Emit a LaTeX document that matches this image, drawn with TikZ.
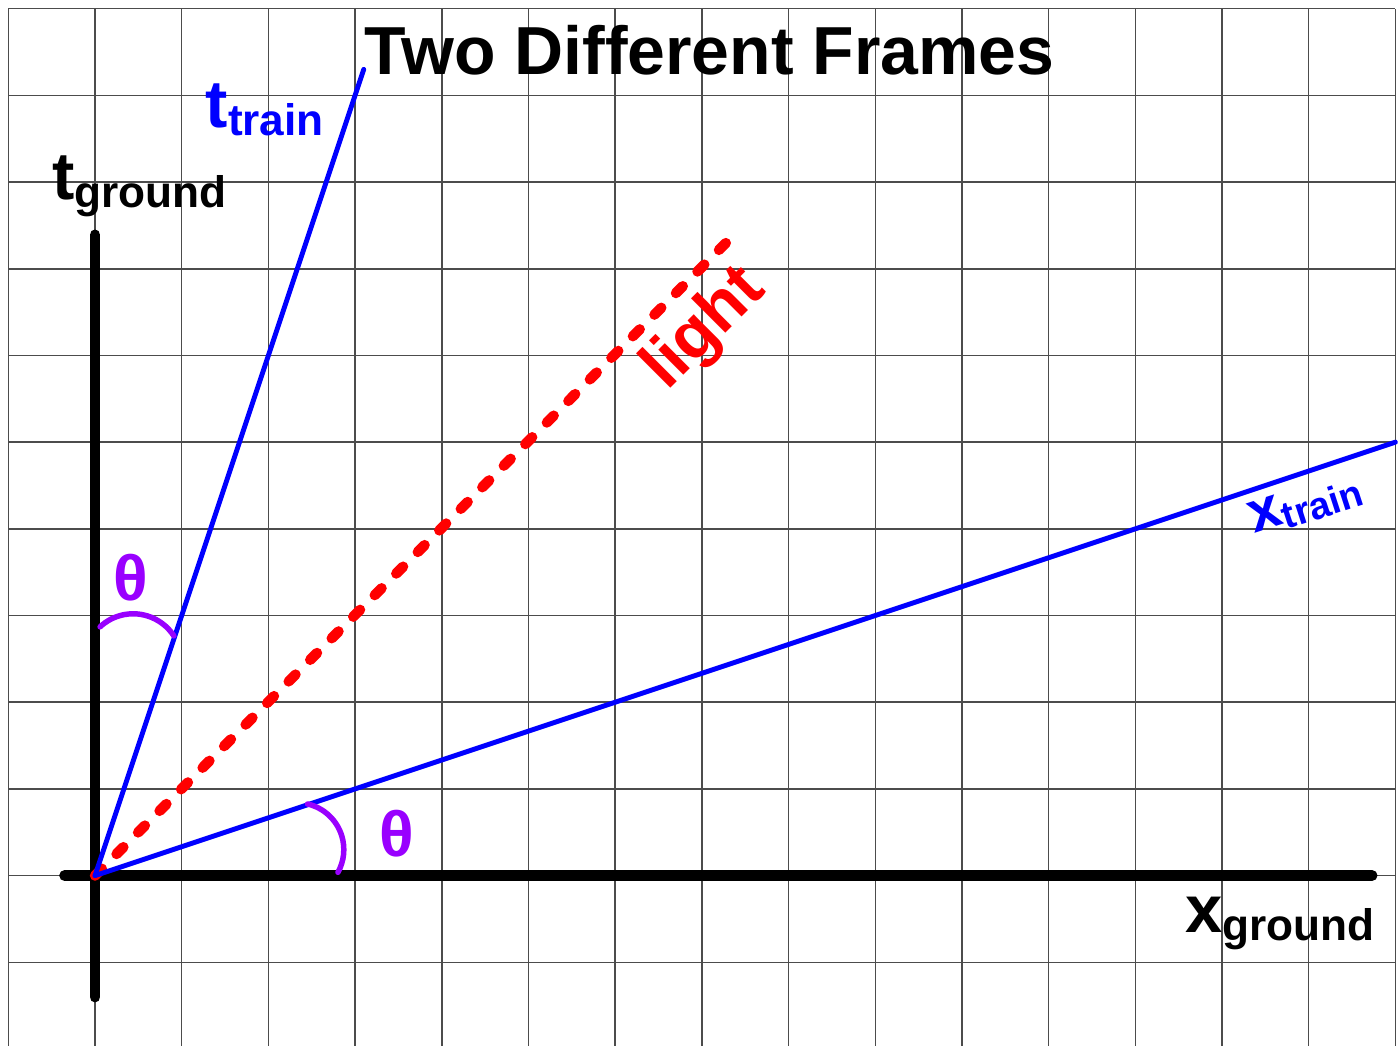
\documentclass[tikz,border=0pt]{standalone}
\usepackage{fontspec}
\setmainfont{Liberation Sans}
\usepackage{xcolor}
\definecolor{frblue}{RGB}{0,0,255}
\definecolor{frred}{RGB}{255,0,0}
\definecolor{frpurple}{RGB}{153,0,255}
\usepackage{tikz}
\usetikzlibrary{arrows.meta,positioning,calc}
\tikzset{
  gridline/.style={draw=black!70,line width=0.5pt},
  axis/.style={draw=black,line width=3.6pt,line cap=round},
  trainline/.style={draw=frblue,line width=1.6pt,line cap=round},
  lightline/.style={draw=frred,line width=3.4pt,line cap=round,dash pattern=on 3.2pt off 6.8pt},
  anglearc/.style={draw=frpurple,line width=1.8pt,line cap=round},
  lbl/.style={inner sep=0pt,font=\bfseries},
}
\newcommand{\sublab}[2]{{\fontsize{22}{24}\selectfont #1}\raisebox{-2.5pt}{\fontsize{14.5}{16}\selectfont #2}}

\begin{document}
\begin{tikzpicture}
\useasboundingbox (-1.096,-1.96) rectangle (15.03,10.10);
\fill[white] (-1.096,-1.96) rectangle (15.03,10.10);
\draw[gridline] (-1,-1.96) grid (15,10);
% axes
\coordinate (O) at (0,0);
\coordinate (tbot) at (0,-1.40);
\coordinate (ttop) at (0,7.39);
\coordinate (xleft) at (-0.35,0);
\coordinate (xright) at (14.73,0);
\draw[axis] (tbot) -- (ttop);
\draw[axis] (xleft) -- (xright);
% train frame and light
\coordinate (ttrain) at (3.1,9.3);
\coordinate (xtrain) at (15,5);
\coordinate (lend) at (7.35,7.37);
\draw[lightline] (O) -- (lend);
\draw[trainline] (O) -- (ttrain);
\draw[trainline] (O) -- (xtrain);
% angles
\coordinate (arctop) at (0.44,2.46);
\coordinate (arcbot) at (2.33,0.30);
\draw[anglearc] (arctop) ++(133:0.56) arc[start angle=133,end angle=33,radius=0.56];
\draw[anglearc] (arcbot) ++(77:0.54) arc[start angle=77,end angle=-29,radius=0.54];
\node[lbl,text=frpurple,font=\bfseries\fontsize{21}{24}\selectfont] (thtop) at (0.415,3.44) {θ};
\node[lbl,text=frpurple,font=\bfseries\fontsize{21}{24}\selectfont] (thbot) at (3.48,0.48) {θ};
% labels
\node[lbl,anchor=base,font=\bfseries\fontsize{22.3}{24}\selectfont] (title) at (7.09,9.24) {Two Different Frames};
\node[lbl,anchor=base west] (tground) at (-0.50,7.80) {\sublab{t}{ground}};
\node[lbl,anchor=base west,text=frblue] (ttrainlab) at (1.27,8.63) {\sublab{t}{train}};
\node[lbl,anchor=base west] (xground) at (12.57,-0.66) {\sublab{x}{ground}};
\node[lbl,text=frblue,rotate=18] (xtrainlab) at (13.96,4.28) {{\fontsize{19}{20}\selectfont x}\raisebox{-2pt}{\fontsize{12.5}{14}\selectfont train}};
\node[lbl,text=frred,rotate=45,font=\bfseries\fontsize{22}{24}\selectfont] (lightlab) at (7.04,6.30) {light};
\end{tikzpicture}
\end{document}
